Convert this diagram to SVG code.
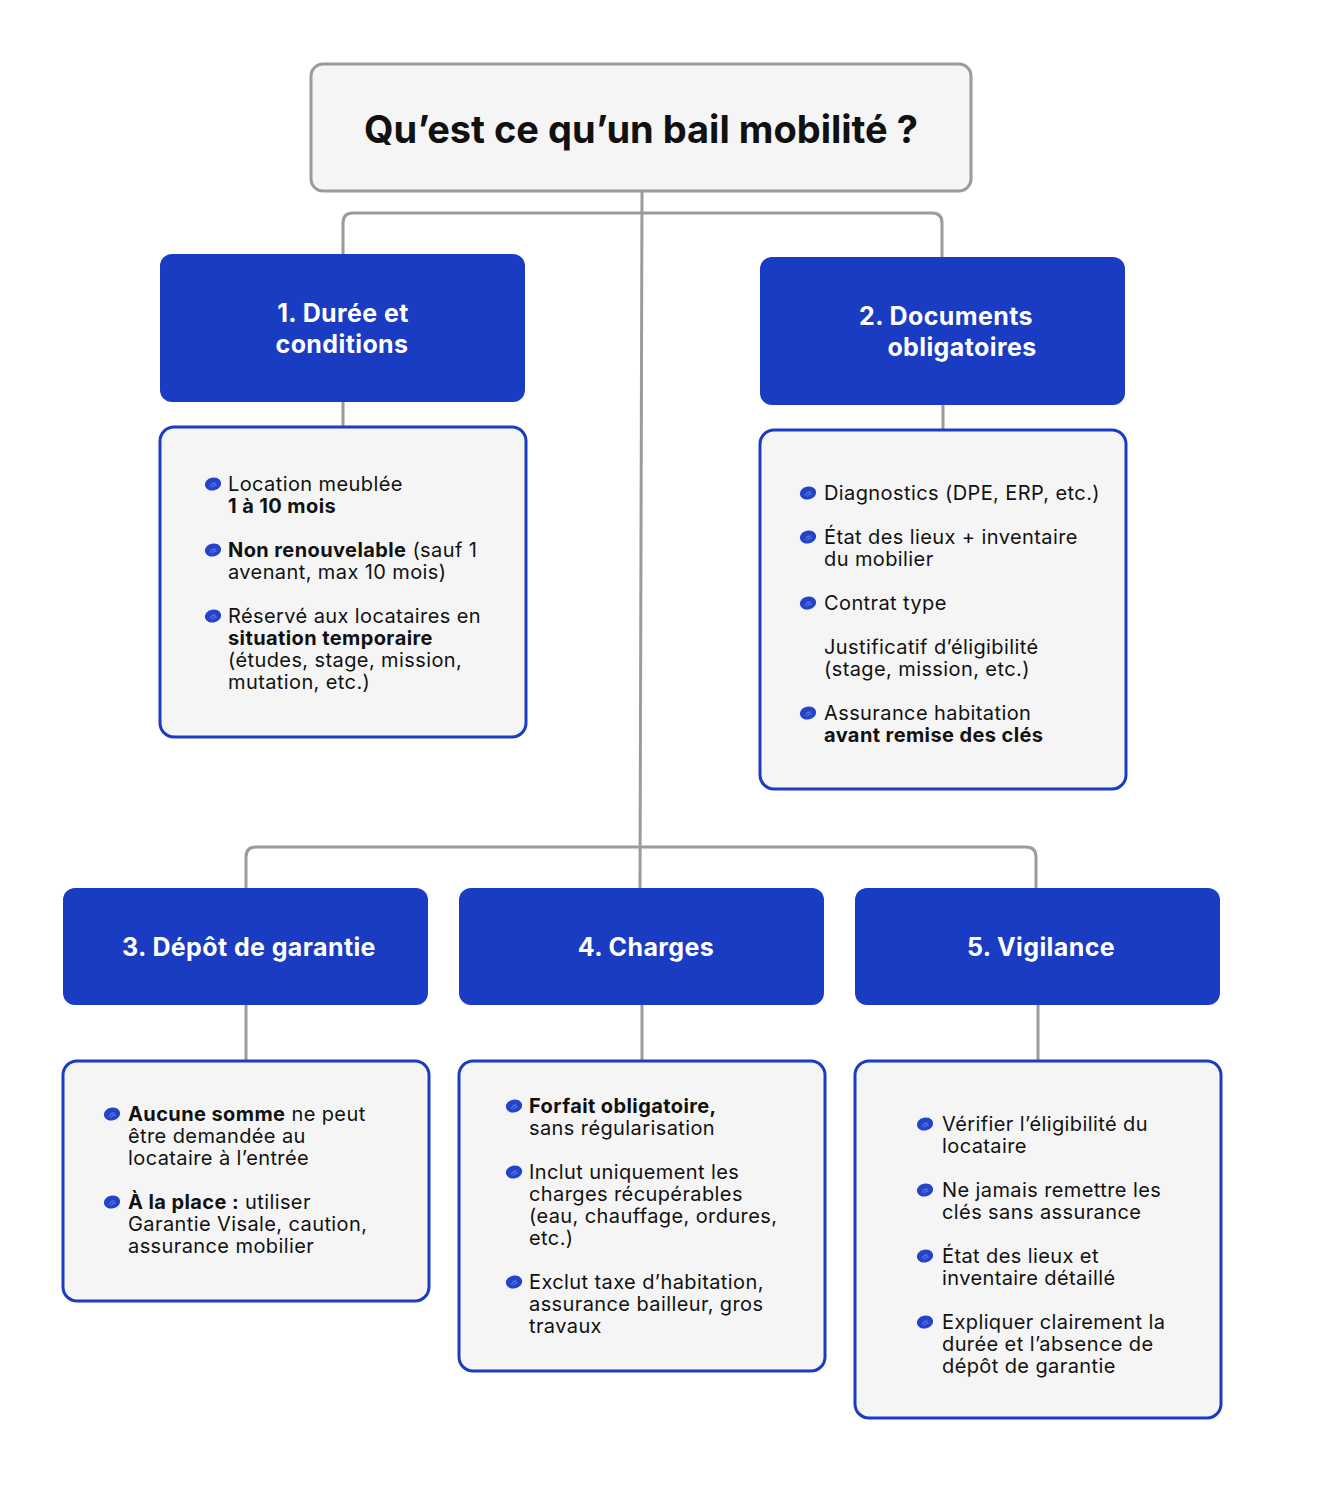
<svg xmlns="http://www.w3.org/2000/svg" width="1325" height="1498" viewBox="0 0 1325 1498">
<style>
.conn{fill:none;stroke:#9b9b9b;stroke-width:3}
.title-box{fill:#f5f5f5;stroke:#9b9b9b;stroke-width:3}
.head{fill:#1a3cc2}
.content{fill:#f5f5f5;stroke:#1a3cc2;stroke-width:3}
.title{font-family:Inter,"Liberation Sans",sans-serif;font-weight:700;font-size:38px;fill:#111;text-anchor:middle}
.htxt{font-family:Inter,"Liberation Sans",sans-serif;font-weight:700;font-size:25px;letter-spacing:0.4px;fill:#fff;text-anchor:middle}
.body{font-family:Inter,"Liberation Sans",sans-serif;font-size:20px;letter-spacing:0.4px;fill:#111}
.b{font-weight:700}
</style>
<defs>
<g id="bullet">
<ellipse cx="0" cy="0" rx="8.2" ry="6.4" transform="rotate(-12)" fill="#2443c9"/>
<path d="M-3,2.5 q2,-4.5 5.5,-3.5 M-1,3.5 q2,-3.5 4.5,-2.5" stroke="#7f93e0" stroke-width="0.9" fill="none"/>
</g>
</defs>
<rect width="1325" height="1498" fill="#fff"/>
<g id="connectors">
<path class="conn" d="M642,191 L640,888"/>
<path class="conn" d="M343,254 V223 Q343,213 353,213 H932 Q942,213 942,223 V257"/>
<path class="conn" d="M246,888 V857 Q246,847 256,847 H1026 Q1036,847 1036,857 V888"/>
<path class="conn" d="M343,402 V427"/>
<path class="conn" d="M943,405 V430"/>
<path class="conn" d="M246,1005 V1061"/>
<path class="conn" d="M642,1005 V1061"/>
<path class="conn" d="M1038,1005 V1061"/>
</g>
<g id="title">
<rect class="title-box" x="311" y="64" width="660" height="127" rx="12"/>
<text class="title" x="641" y="143">Qu’est ce qu’un bail mobilité ?</text>
</g>
<g id="n1">
<rect class="head" x="160" y="254" width="365" height="148" rx="12"/>
<text class="htxt"><tspan x="343" y="322">1. Durée et</tspan><tspan x="342" y="353">conditions</tspan></text>
</g>
<g id="n1-content">
<rect class="content" x="160" y="427" width="366" height="310" rx="14"/>
<use href="#bullet" x="213" y="484"/>
<use href="#bullet" x="213" y="550"/>
<use href="#bullet" x="213" y="616"/>
<text class="body">
<tspan x="228" y="491">Location meublée</tspan>
<tspan x="228" y="513" class="b">1 à 10 mois</tspan>
<tspan x="228" y="557"><tspan class="b">Non renouvelable</tspan> (sauf 1</tspan>
<tspan x="228" y="579">avenant, max 10 mois)</tspan>
<tspan x="228" y="623">Réservé aux locataires en</tspan>
<tspan x="228" y="645" class="b">situation temporaire</tspan>
<tspan x="228" y="667">(études, stage, mission,</tspan>
<tspan x="228" y="689">mutation, etc.)</tspan>
</text>
</g>
<g id="n2">
<rect class="head" x="760" y="257" width="365" height="148" rx="12"/>
<text class="htxt"><tspan x="946" y="325">2. Documents</tspan><tspan x="962" y="356">obligatoires</tspan></text>
</g>
<g id="n2-content">
<rect class="content" x="760" y="430" width="366" height="359" rx="14"/>
<use href="#bullet" x="808" y="493"/>
<use href="#bullet" x="808" y="537"/>
<use href="#bullet" x="808" y="603"/>
<use href="#bullet" x="808" y="713"/>
<text class="body">
<tspan x="824" y="500">Diagnostics (DPE, ERP, etc.)</tspan>
<tspan x="824" y="544">État des lieux + inventaire</tspan>
<tspan x="824" y="566">du mobilier</tspan>
<tspan x="824" y="610">Contrat type</tspan>
<tspan x="824" y="654">Justificatif d’éligibilité</tspan>
<tspan x="824" y="676">(stage, mission, etc.)</tspan>
<tspan x="824" y="720">Assurance habitation</tspan>
<tspan x="824" y="742" class="b">avant remise des clés</tspan>
</text>
</g>
<g id="n3">
<rect class="head" x="63" y="888" width="365" height="117" rx="12"/>
<text class="htxt" x="249" y="956">3. Dépôt de garantie</text>
</g>
<g id="n3-content">
<rect class="content" x="63" y="1061" width="366" height="240" rx="14"/>
<use href="#bullet" x="112" y="1114"/>
<use href="#bullet" x="112" y="1202"/>
<text class="body">
<tspan x="128" y="1121"><tspan class="b">Aucune somme</tspan> ne peut</tspan>
<tspan x="128" y="1143">être demandée au</tspan>
<tspan x="128" y="1165">locataire à l’entrée</tspan>
<tspan x="128" y="1209"><tspan class="b">À la place :</tspan> utiliser</tspan>
<tspan x="128" y="1231">Garantie Visale, caution,</tspan>
<tspan x="128" y="1253">assurance mobilier</tspan>
</text>
</g>
<g id="n4">
<rect class="head" x="459" y="888" width="365" height="117" rx="12"/>
<text class="htxt" x="646" y="956">4. Charges</text>
</g>
<g id="n4-content">
<rect class="content" x="459" y="1061" width="366" height="310" rx="14"/>
<use href="#bullet" x="514" y="1106"/>
<use href="#bullet" x="514" y="1172"/>
<use href="#bullet" x="514" y="1282"/>
<text class="body">
<tspan x="529" y="1113" class="b">Forfait obligatoire,</tspan>
<tspan x="529" y="1135">sans régularisation</tspan>
<tspan x="529" y="1179">Inclut uniquement les</tspan>
<tspan x="529" y="1201">charges récupérables</tspan>
<tspan x="529" y="1223">(eau, chauffage, ordures,</tspan>
<tspan x="529" y="1245">etc.)</tspan>
<tspan x="529" y="1289">Exclut taxe d’habitation,</tspan>
<tspan x="529" y="1311">assurance bailleur, gros</tspan>
<tspan x="529" y="1333">travaux</tspan>
</text>
</g>
<g id="n5">
<rect class="head" x="855" y="888" width="365" height="117" rx="12"/>
<text class="htxt" x="1041" y="956">5. Vigilance</text>
</g>
<g id="n5-content">
<rect class="content" x="855" y="1061" width="366" height="357" rx="14"/>
<use href="#bullet" x="925" y="1124"/>
<use href="#bullet" x="925" y="1190"/>
<use href="#bullet" x="925" y="1256"/>
<use href="#bullet" x="925" y="1322"/>
<text class="body">
<tspan x="942" y="1131">Vérifier l’éligibilité du</tspan>
<tspan x="942" y="1153">locataire</tspan>
<tspan x="942" y="1197">Ne jamais remettre les</tspan>
<tspan x="942" y="1219">clés sans assurance</tspan>
<tspan x="942" y="1263">État des lieux et</tspan>
<tspan x="942" y="1285">inventaire détaillé</tspan>
<tspan x="942" y="1329">Expliquer clairement la</tspan>
<tspan x="942" y="1351">durée et l’absence de</tspan>
<tspan x="942" y="1373">dépôt de garantie</tspan>
</text>
</g>
</svg>
